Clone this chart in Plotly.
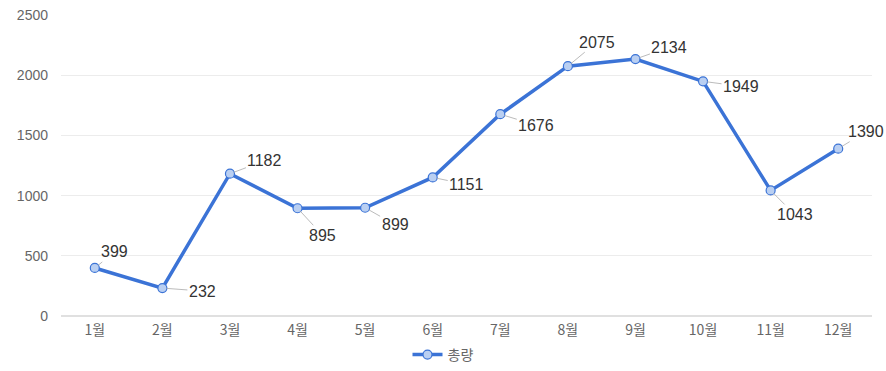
import plotly.graph_objects as go

months = ["1월", "2월", "3월", "4월", "5월", "6월", "7월", "8월", "9월", "10월", "11월", "12월"]
values = [399, 232, 1182, 895, 899, 1151, 1676, 2075, 2134, 1949, 1043, 1390]
label_dx = [20, 40, 35, 25, 30, 34, 36, 29, 34, 38, 24, 28]
label_dy = [-16, 3, -13, 27, 17, 7, 11, -24, -12, 5, 24, -17]

FONT = "Liberation Sans, Noto Sans CJK KR, sans-serif"

fig = go.Figure()
fig.add_trace(go.Scatter(
    x=months, y=values, mode="lines+markers", name="총량",
    line=dict(color="#3b73d6", width=3.5),
    marker=dict(size=9, color="#b9cff2", line=dict(color="#3b73d6", width=1.2)),
))

for m, v, dx, dy in zip(months, values, label_dx, label_dy):
    fig.add_annotation(
        x=m, y=v, text=str(v), showarrow=True, arrowhead=0, arrowwidth=0.8,
        arrowcolor="#aaaaaa", ax=dx, ay=dy, standoff=4,
        font=dict(family=FONT, size=16, color="#333333"),
    )

fig.update_layout(
    width=886, height=371,
    margin=dict(l=61, r=14, t=15, b=55, autoexpand=False),
    paper_bgcolor="white", plot_bgcolor="white",
    font=dict(family=FONT, color="#666666", size=14),
    showlegend=True,
    legend=dict(orientation="h", x=0.5, xanchor="center", xref="container",
                y=16 / 371, yanchor="middle", yref="container",
                font=dict(family="Noto Sans CJK KR, sans-serif", size=14, color="#666666")),
    xaxis=dict(range=[-0.5, len(months) - 0.5], showgrid=False, showline=False, zeroline=False,
               ticks="", automargin=False, ticklabelstandoff=4,
               tickfont=dict(family="Noto Sans CJK KR, Liberation Sans, sans-serif", size=14, color="#666666")),
    yaxis=dict(range=[0, 2500], dtick=500, showgrid=True, gridcolor="#ececec", gridwidth=1,
               zeroline=True, zerolinecolor="#e0e0e0", showline=False, ticks="",
               automargin=False, ticklabelstandoff=12,
               tickfont=dict(size=14, color="#666666")),
)

fig.write_html("out.html")
